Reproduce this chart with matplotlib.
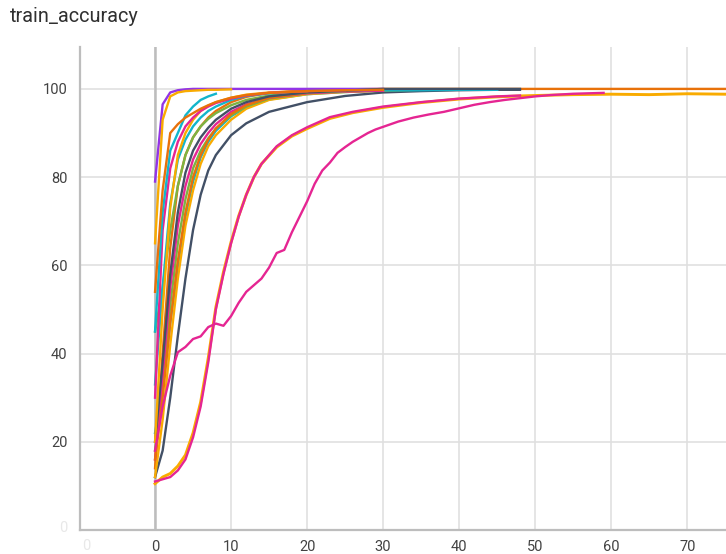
import matplotlib
matplotlib.use('Agg')
import matplotlib.pyplot as plt

plt.rcParams['font.family'] = ['Roboto', 'DejaVu Sans']

# shared epoch grid for the fast runs
ep = [0, 1, 2, 3, 4, 5, 6, 7, 8, 10, 12, 15, 20, 25, 30, 35, 40, 45, 48]
ep_long = ep + [55, 60, 65, 70, 75]

# values on ep / ep_long
purple = [79, 96.5, 99.2, 99.7, 99.9, 100, 100, 100, 100, 100, 100, 100, 100, 100, 100]
yellow1 = [65, 93, 98.3, 99.2, 99.5, 99.6, 99.7, 99.8, 99.8, 99.9]
orange1 = [54, 77, 90, 92, 93.5, 94.5, 95.5, 96.3, 97, 98, 98.6, 99.1, 99.5, 99.7, 99.8]
cyan1 = [45, 72, 86, 90, 94, 96, 97.5, 98.3, 98.9]
magenta1 = [30, 68, 82, 88, 91.5, 93.5, 95, 96, 96.8, 97.8, 98.5, 99.1, 99.5, 99.7]
yellow2 = [20, 50, 73, 85, 90, 93, 95, 96.2, 97, 98, 98.7, 99.2, 99.5]
cyan2 = [33, 55, 74, 84, 88.5, 91.5, 93.5, 95, 96, 97.5, 98.4, 99, 99.5, 99.7, 99.8, 99.8, 99.9, 99.9]
green1 = [45, 55, 68, 78, 85, 89, 91.5, 93.2, 94.5, 96.3, 97.5, 98.5, 99.2, 99.5]
orange2 = [14, 40, 64, 78, 85, 89, 91.5, 93.5, 95, 97, 98.2, 99.1, 99.7, 99.9, 100, 100, 100, 100, 100,
           100, 100, 100, 100, 100]
slate1 = [20, 38, 58, 72, 81, 86, 89, 91.2, 93, 95.5, 97, 98.3, 99.2, 99.6, 100, 100, 100, 100, 100]
magenta2 = [16, 35, 55, 69, 78, 84, 87.5, 90, 92, 94.8, 96.5, 98, 99, 99.4, 99.6]
green2 = [18, 33, 51, 65, 75, 82, 86, 88.8, 91, 94, 96, 97.8, 99, 99.4, 99.7, 99.8]
cyan3 = [22, 32, 47, 60, 71, 79, 84.5, 88, 90.5, 93.8, 95.8, 97.6, 98.8, 99.3, 99.6, 99.7, 99.8, 99.8]
yellow3 = [12, 25, 42, 57, 69, 77, 83, 87, 89.5, 93, 95.5, 97.5, 98.8, 99.3, 99.6]
orange3 = [16, 30, 47, 61, 72, 80, 85, 88.5, 91, 94.3, 96.3, 98, 99.1]
slate2 = [12, 18, 30, 44, 57, 68, 76, 81.5, 85, 89.5, 92.2, 94.8, 97, 98.4, 99.2, 99.5, 99.7, 99.8, 99.8]

# slow runs
pinkA_x = [0, 1, 2, 3, 4, 5, 6, 7, 8, 9, 10, 11, 12, 13, 14, 16, 18, 20, 23, 26, 30, 35, 40, 45, 48]
pinkA_y = [11, 11.5, 12, 13.5, 16, 21, 28, 38, 50, 58, 65, 71, 76, 80, 83, 87, 89.5, 91.3, 93.6, 94.8, 96, 97, 97.8, 98.3, 98.5]
yellowA_x = pinkA_x + [50, 55, 60, 65, 70, 75]
yellowA_y = [10.5, 12, 12.8, 14.5, 17, 22, 29, 39, 50.5, 58.5, 65.3, 71.2, 76, 80, 83, 86.8, 89.3, 91, 93.3, 94.6,
             95.8, 96.9, 97.7, 98.2, 98.4, 98.5, 98.7, 98.8, 98.7, 98.9, 98.8]
pinkB_x = [0, 1, 2, 3, 4, 5, 6, 7, 8, 9, 10, 11, 12, 13, 14, 15, 16, 17, 18, 19, 20, 21, 22, 23, 24, 25, 26, 27,
           28, 29, 30, 32, 34, 36, 38, 40, 42, 44, 46, 48, 50, 52, 55, 59]
pinkB_y = [18, 28, 35, 40.3, 41.5, 43.3, 43.9, 46, 46.8, 46.3, 48.5, 51.5, 54, 55.5, 57, 59.5, 62.8, 63.5, 67.5,
           71, 74.5, 78.5, 81.5, 83.3, 85.5, 86.8, 88, 89, 90, 90.8, 91.4, 92.6, 93.5, 94.2, 94.8, 95.6, 96.4,
           97, 97.5, 97.9, 98.3, 98.6, 98.9, 99.1]

C_SLATE = '#425066'
C_CYAN = '#12b5cb'
C_MAG = '#e52592'
C_YEL = '#f9ab00'
C_PUR = '#9334e6'
C_GRN = '#7cb342'
C_ORG = '#e8710a'

fig = plt.figure(figsize=(7.26, 5.54), dpi=100)
ax = fig.add_axes([80 / 726, 1 - 530 / 554, 1 - 80 / 726, (530 - 47) / 554])

ax.set_xlim(-9.87, 75.1)
ax.set_ylim(0, 109.5)
ax.set_xticks(range(0, 80, 10))
ax.set_yticks([20, 40, 60, 80, 100])
ax.grid(True, color='#e0e0e0', lw=1.2)
ax.set_axisbelow(True)
ax.axvline(0, color='#bdbdbd', lw=1.8, zorder=1)
ax.tick_params(length=0, labelsize=10.5, colors='#424242', pad=9)
ax.tick_params(axis='x', pad=7)
for s in ['top', 'right']:
    ax.spines[s].set_visible(False)
for s in ['left', 'bottom']:
    ax.spines[s].set_color('#bdbdbd')
    ax.spines[s].set_linewidth(1.6)

lw = 1.7
runs = [
    (orange2, C_ORG, ep_long), (slate2, C_SLATE, ep), (cyan3, C_CYAN, ep), (yellow3, C_YEL, ep),
    (green2, C_GRN, ep), (magenta2, C_MAG, ep), (orange3, C_ORG, ep), (purple, C_PUR, ep),
    (green1, C_GRN, ep), (cyan2, C_CYAN, ep), (slate1, C_SLATE, ep), (yellow2, C_YEL, ep),
    (magenta1, C_MAG, ep), (cyan1, C_CYAN, ep), (orange1, C_ORG, ep), (yellow1, C_YEL, ep),
]
for vals, col, xs in runs:
    ax.plot(xs[:len(vals)], vals, color=col, lw=lw, solid_joinstyle='round')

ax.plot(yellowA_x, yellowA_y, color=C_YEL, lw=lw + 0.4)
ax.plot(pinkA_x, pinkA_y, color=C_MAG, lw=lw)
ax.plot(pinkB_x, pinkB_y, color=C_MAG, lw=lw)

# faded labels drawn by the original at the clipped edges
fig.text(86 / 726, 1 - 546 / 554, '0', color='#e8e8e8', fontsize=10.5, ha='center', va='center')
fig.text(67 / 726, 1 - 528 / 554, '0', color='#e8e8e8', fontsize=10.5, ha='right', va='center')

fig.text(10 / 726, 1 - 17 / 554, 'train_accuracy', fontsize=14.3, color='#303030', ha='left', va='center')

fig.savefig('out.png', dpi=100)
